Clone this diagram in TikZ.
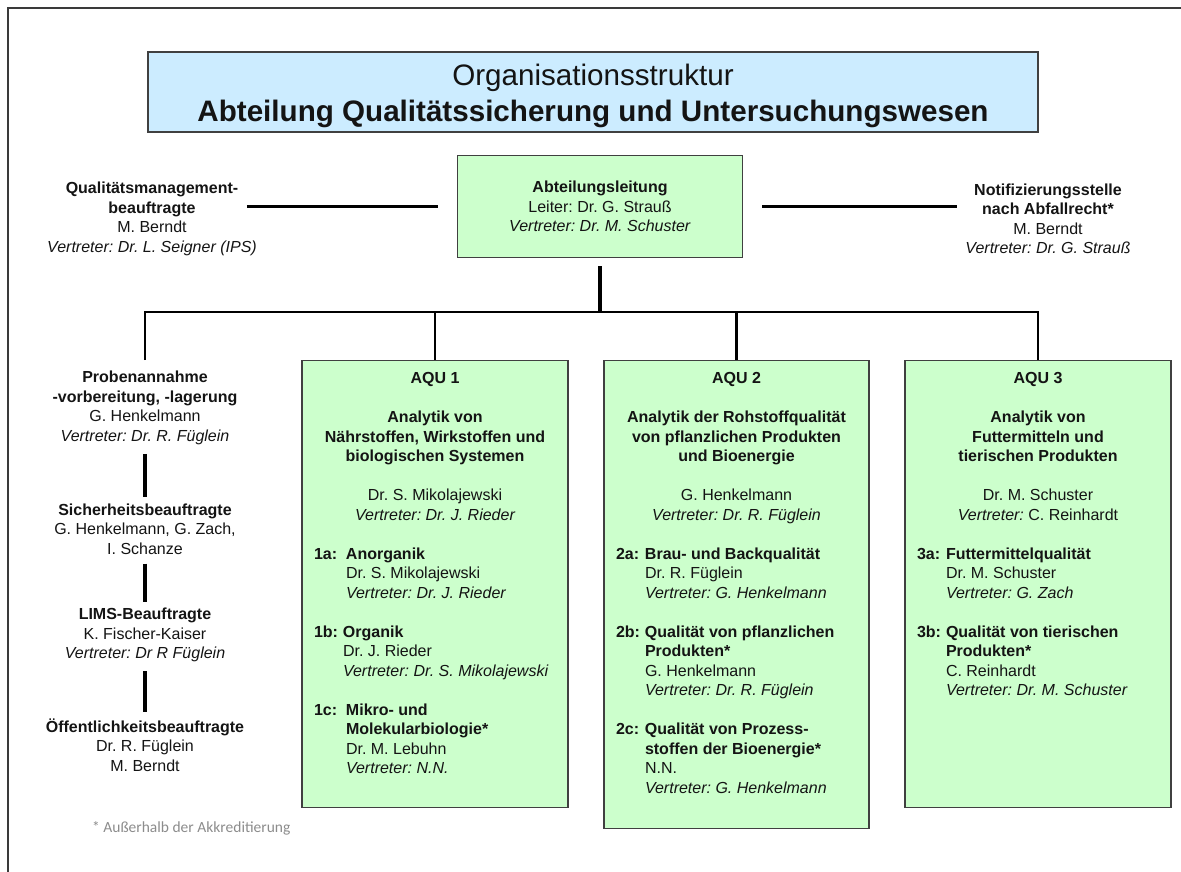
\documentclass[tikz,border=0pt]{standalone}
\usepackage{fontspec}
\setmainfont{Liberation Sans}
\newfontfamily\calfont{Carlito}
\usetikzlibrary{calc}
\definecolor{titlefill}{HTML}{CCECFF}
\definecolor{greenfill}{HTML}{CCFFCC}
\definecolor{boxline}{HTML}{404040}
\definecolor{txt}{HTML}{141414}
\definecolor{framecol}{HTML}{3A3A3A}
\definecolor{notecol}{HTML}{8C8C8C}
\newlength\blskip \setlength\blskip{19.5pt}
\newcommand\aqusetup{\fontsize{16}{19.5}\selectfont\frenchspacing\parskip=0pt\relax\color{txt}}
\newcommand{\subent}[3][29pt]{\raggedright\leftskip=12pt\relax\hangindent=#1\relax\hangafter=1\relax\noindent\makebox[#1][l]{\bfseries #2}\textbf{#3}}
\begin{document}
\frenchspacing
\begin{tikzpicture}[x=1pt,y=-1pt,
  every node/.style={text=txt},
  conn/.style={line width=3.2pt, black},
  busline/.style={line width=2.8pt, black},
  textblk/.style={align=center, font=\fontsize{16}{19.5}\selectfont\frenchspacing, inner sep=0pt},
  greenbox/.style={draw=boxline, line width=1.2pt, fill=greenfill},
  aqu/.style={greenbox, inner sep=0pt, anchor=north}]
\useasboundingbox (0,0) rectangle (1181,872);
\draw[framecol, line width=1.6pt] (8,8) rectangle (1200,900);

% title
\node[draw=boxline, line width=1.2pt, fill=titlefill, minimum width=890pt, minimum height=80pt, inner sep=0pt] (title) at (593,92) {};
\node[align=center, inner sep=0pt, font=\fontsize{29.6}{36}\selectfont] (titletext) at (593,96) {Organisationsstruktur\\ \bfseries Abteilung Qualitätssicherung und Untersuchungswesen};

% Abteilungsleitung
\node[greenbox, minimum width=285pt, minimum height=102pt, textblk] (al) at (600,206.5) {\textbf{Abteilungsleitung}\\ Leiter: Dr. G. Strauß\\ \textit{Vertreter: Dr. M. Schuster}};

\node[textblk] (qm) at (152,219) {\textbf{Qualitätsmanagement-}\\ \textbf{beauftragte}\\ M. Berndt\\ \textit{Vertreter: Dr. L. Seigner (IPS)}};
\node[textblk] (notif) at (1048,219) {\textbf{Notifizierungsstelle}\\ \textbf{nach Abfallrecht*}\\ M. Berndt\\ \textit{Vertreter: Dr. G. Strauß}};

\draw[conn, shorten <=-10pt, shorten >=19pt] (qm.east |- al.west) -- (al.west);
\draw[conn, shorten <=19pt, shorten >=8pt] (al.east) -- (notif.west |- al.east);

% left column
\node[textblk] (prob) at (145,408) {\textbf{Probenannahme}\\ \textbf{-vorbereitung, -lagerung}\\ G. Henkelmann\\ \textit{Vertreter: Dr. R. Füglein}};
\node[textblk] (sich) at (145,529) {\textbf{Sicherheitsbeauftragte}\\ G. Henkelmann, G. Zach,\\ I. Schanze};
\node[textblk] (lims) at (145,635) {\textbf{LIMS-Beauftragte}\\ K. Fischer-Kaiser\\ \textit{Vertreter: Dr R Füglein}};
\node[textblk] (oeff) at (145,745) {\textbf{Öffentlichkeitsbeauftragte}\\ Dr. R. Füglein\\ M. Berndt};

\draw[conn, shorten <=9pt, shorten >=6pt] (prob.south) -- (sich.north);
\draw[conn, shorten <=9pt, shorten >=6pt] (sich.south) -- (lims.north);
\draw[conn, shorten <=9pt, shorten >=6pt] (lims.south) -- (oeff.north);

% AQU boxes
\node[aqu] (aqu1) at (435,360) {\parbox[t][447pt][t]{266pt}{\aqusetup
\vspace*{9.3pt}%
{\centering\bfseries\strut AQU 1\\[\blskip]
Analytik von\\
Nährstoffen, Wirkstoffen und\\
biologischen Systemen\\[\blskip]
\mdseries Dr. S. Mikolajewski\\
\itshape Vertreter: Dr. J. Rieder\par}
\vspace{\blskip}
{\subent[32pt]{1a:}{Anorganik}\newline Dr. S. Mikolajewski\newline \textit{Vertreter: Dr. J. Rieder}\par}
\vspace{\blskip}
{\subent{1b:}{Organik}\newline Dr. J. Rieder\newline \textit{Vertreter: Dr. S. Mikolajewski}\par}
\vspace{\blskip}
{\subent[32pt]{1c:}{Mikro- und}\newline \textbf{Molekularbiologie*}\newline Dr. M. Lebuhn\newline \textit{Vertreter: N.N.}\par}
}};

\node[aqu] (aqu2) at (736.5,360) {\parbox[t][468pt][t]{265pt}{\aqusetup
\vspace*{9.3pt}%
{\centering\bfseries\strut AQU 2\\[\blskip]
Analytik der Rohstoffqualität\\
von pflanzlichen Produkten\\
und Bioenergie\\[\blskip]
\mdseries G. Henkelmann\\
\itshape Vertreter: Dr. R. Füglein\par}
\vspace{\blskip}
{\subent{2a:}{Brau- und Backqualität}\newline Dr. R. Füglein\newline \textit{Vertreter: G. Henkelmann}\par}
\vspace{\blskip}
{\subent{2b:}{Qualität von pflanzlichen}\newline \textbf{Produkten*}\newline G. Henkelmann\newline \textit{Vertreter: Dr. R. Füglein}\par}
\vspace{\blskip}
{\subent{2c:}{Qualität von Prozess-}\newline \textbf{stoffen der Bioenergie*}\newline N.N.\newline \textit{Vertreter: G. Henkelmann}\par}
}};

\node[aqu] (aqu3) at (1038,360) {\parbox[t][447pt][t]{266pt}{\aqusetup
\vspace*{9.3pt}%
{\centering\bfseries\strut AQU 3\\[\blskip]
Analytik von\\
Futtermitteln und\\
tierischen Produkten\\[\blskip]
\mdseries Dr. M. Schuster\\
\textit{Vertreter:} C. Reinhardt\par}
\vspace{\blskip}
{\subent{3a:}{Futtermittelqualität}\newline Dr. M. Schuster\newline \textit{Vertreter: G. Zach}\par}
\vspace{\blskip}
{\subent{3b:}{Qualität von tierischen}\newline \textbf{Produkten*}\newline C. Reinhardt\newline \textit{Vertreter: Dr. M. Schuster}\par}
}};

% bus
\coordinate (bus) at (600,312);
\draw[conn, shorten <=8pt] (al.south) -- (al.south |- bus);
\draw[busline, line join=miter] (prob.north) ++(0,-11) -- (prob.north |- bus) -- (aqu3.north |- bus) -- (aqu3.north);
\draw[busline] (aqu1.north |- bus) -- (aqu1.north);
\draw[busline] (aqu2.north |- bus) -- (aqu2.north);

\node[anchor=west, inner sep=0pt, font=\calfont\fontsize{15.5}{18}\selectfont, text=notecol] (note) at (92,828) {* Außerhalb der Akkreditierung};
\end{tikzpicture}
\end{document}
